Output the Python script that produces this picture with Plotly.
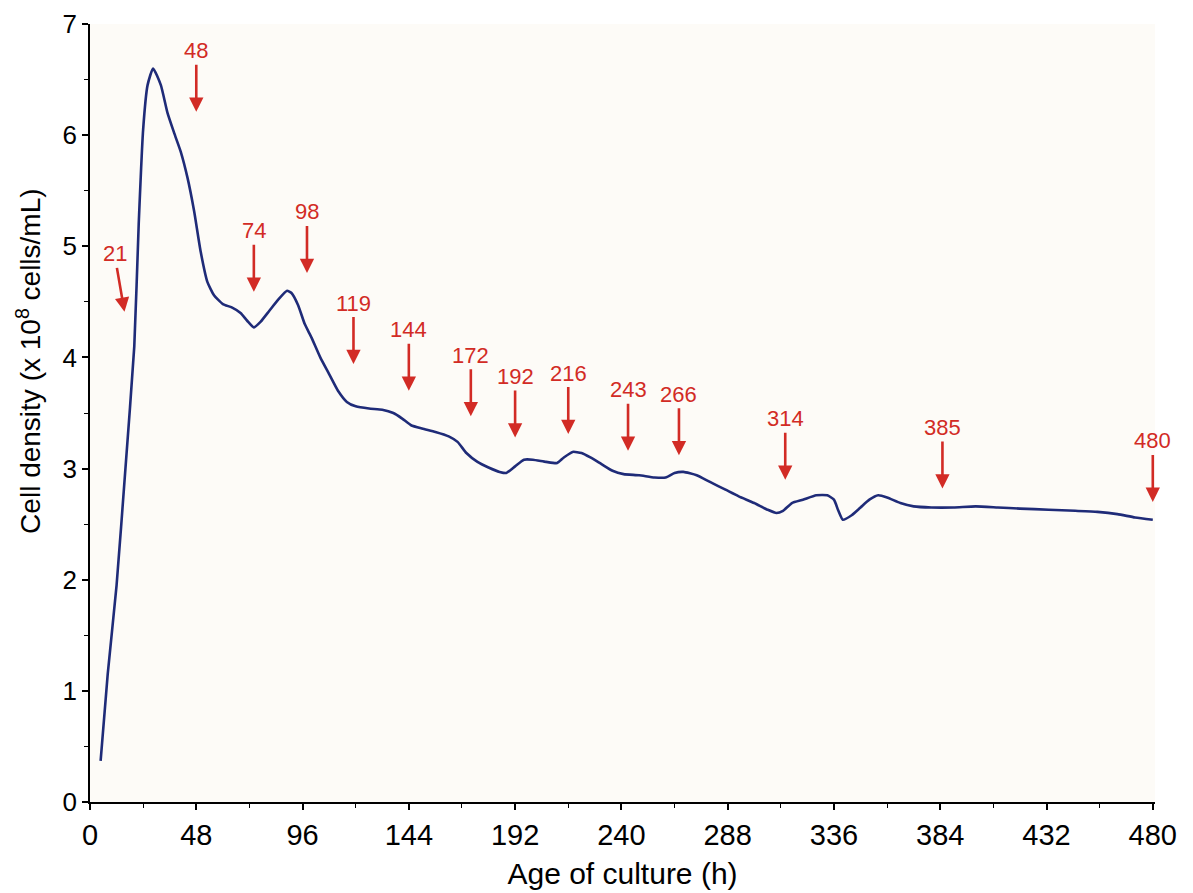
import plotly.graph_objects as go

# Growth curve
hours = [4.8, 8, 12, 16, 20, 22, 24, 26, 28.5, 32, 35, 38, 41, 44, 47, 50, 53, 56, 60,
         64, 68, 71, 74, 77, 81, 85, 89, 91, 94, 97, 100, 104, 108, 112, 116, 120, 126, 132,
         137, 141, 145, 150, 156, 162, 166, 170, 175, 180, 185, 188, 192, 196, 200, 206, 211,
         214, 218, 222, 226, 231, 236, 241, 248, 255, 260, 264, 268, 274, 280, 287, 293, 300,
         306, 310, 313, 317, 322, 328, 333, 336, 338, 340, 344, 348, 352, 356, 360, 366, 372,
         380, 390, 400, 410, 420, 433, 445, 455, 464, 472, 480]
density = [0.37, 1.15, 1.95, 3.0, 4.1, 5.2, 6.05, 6.45, 6.6, 6.45, 6.2, 6.02, 5.85, 5.62, 5.32,
           4.95, 4.68, 4.56, 4.48, 4.45, 4.4, 4.33, 4.27, 4.32, 4.42, 4.52, 4.6, 4.58,
           4.47, 4.3, 4.18, 4.0, 3.85, 3.7, 3.6, 3.56, 3.54, 3.53, 3.5, 3.45, 3.39, 3.36, 3.33,
           3.29, 3.24, 3.14, 3.06, 3.01, 2.97, 2.96, 3.02, 3.08, 3.08, 3.06, 3.05, 3.1, 3.15,
           3.14, 3.1, 3.04, 2.98, 2.95, 2.94, 2.92, 2.92, 2.96, 2.97, 2.94, 2.88, 2.81, 2.75,
           2.69, 2.63, 2.6, 2.62, 2.69, 2.72, 2.76, 2.76, 2.72, 2.62, 2.54, 2.58, 2.65, 2.72,
           2.76, 2.74, 2.69, 2.66, 2.65, 2.65, 2.66, 2.65, 2.64, 2.63, 2.62, 2.61, 2.59, 2.56,
           2.54]

# Sampling times marked with arrows, and the density level where each arrow points
sample_hours = [21, 48, 74, 98, 119, 144, 172, 192, 216, 243, 266, 314, 385, 480]
arrow_tip_density = [4.41, 6.21, 4.59, 4.76, 3.94, 3.70, 3.47, 3.28, 3.31, 3.16, 3.12, 2.90, 2.82, 2.70]

x_ticks = list(range(0, 481, 48))
y_ticks = list(range(0, 8))

RED = "#d22b25"
LINE = "#1f2b78"
FONT = "Liberation Sans, Arial, sans-serif"

fig = go.Figure()
fig.add_trace(go.Scatter(
    x=hours, y=density, mode="lines",
    line=dict(color=LINE, width=2.6, shape="spline", smoothing=0.5),
    showlegend=False, hoverinfo="skip",
))

annotations = []
for h, tip in zip(sample_hours, arrow_tip_density):
    if h == sample_hours[0]:
        ann = dict(x=h, y=tip, ax=-10, ay=-58, xshift=-12)
    else:
        ann = dict(x=h, y=tip, ax=0, ay=-61)
    ann.update(
        xref="x", yref="y", axref="pixel", ayref="pixel",
        text=str(h), showarrow=True, arrowhead=2, arrowsize=1.1, arrowwidth=2.6,
        arrowcolor=RED, standoff=0,
        font=dict(family=FONT, size=22, color=RED),
    )
    annotations.append(ann)

# y-axis title, placed a little above the middle of the axis as in the reference
annotations.append(dict(
    text="Cell density (x 10<sup>8</sup> cells/mL)", textangle=-90,
    xref="paper", yref="paper", x=-0.058, y=0.566, xanchor="center", yanchor="middle",
    showarrow=False, font=dict(size=28, family=FONT, color="black"),
))

# the page body adds an 8px margin, so the figure is 8px smaller each way
fig.update_layout(
    width=1185, height=885,
    margin=dict(l=82, r=38, t=16, b=91),
    paper_bgcolor="white",
    plot_bgcolor="#fdfbf7",
    font=dict(family=FONT, color="black"),
    annotations=annotations,
    xaxis=dict(
        range=[0, 481], tickvals=x_ticks, ticktext=[str(v) for v in x_ticks],
        automargin=False,
        showgrid=False, zeroline=False, showline=True, linecolor="black", linewidth=1.5,
        ticks="outside", ticklen=6, tickwidth=1.5, tickcolor="black",
        minor=dict(dtick=24, tick0=0, ticks="outside", ticklen=4, tickcolor="black", tickwidth=1.2),
        tickfont=dict(size=29, family=FONT),
        title=dict(text="Age of culture (h)", font=dict(size=30, family=FONT), standoff=13),
    ),
    yaxis=dict(
        range=[0, 7], tickvals=y_ticks, ticktext=[str(v) for v in y_ticks],
        automargin=False,
        showgrid=False, zeroline=False, showline=True, linecolor="black", linewidth=1.5,
        ticks="outside", ticklen=6, tickwidth=1.5, tickcolor="black",
        minor=dict(dtick=0.5, tick0=0, ticks="outside", ticklen=4, tickcolor="black", tickwidth=1.2),
        tickfont=dict(size=26, family=FONT),
    ),
)

fig.write_html("out.html")
